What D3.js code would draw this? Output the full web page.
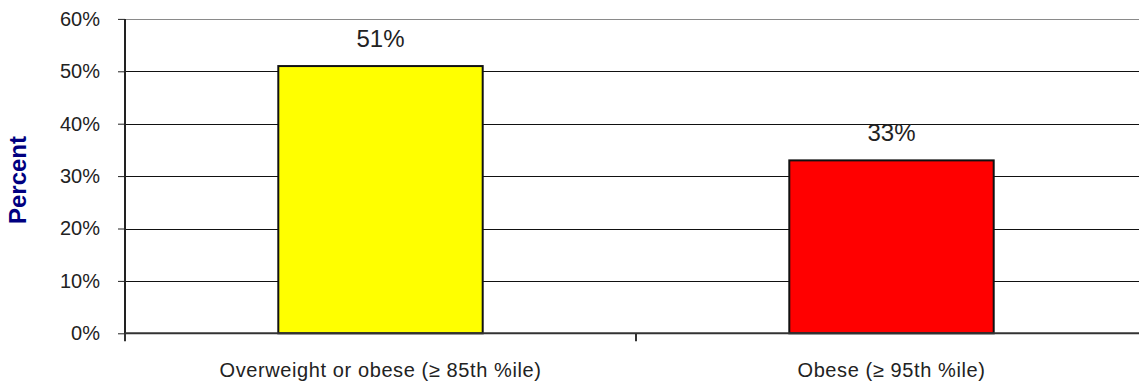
<!DOCTYPE html>
<html>
<head>
<meta charset="utf-8">
<script src="https://cdn.jsdelivr.net/npm/d3@7"></script>
<style>
  html, body { margin: 0; padding: 0; background: #fff; }
  svg { display: block; font-family: "Liberation Sans", Arial, sans-serif; }
</style>
</head>
<body>
<svg id="chart" width="1139" height="383"></svg>
<script>
// Share of children by weight status
const categories = ["Overweight or obese (\u2265 85th %ile)", "Obese (\u2265 95th %ile)"];
const values = [51, 33];
const barColors = ["#ffff00", "#ff0000"];
const yTicks = [0, 10, 20, 30, 40, 50, 60];

const svg = d3.select("#chart");
const plot = { left: 125, right: 1147, top: 18.9, bottom: 333.3 };

const x = d3.scaleBand().domain(categories).range([plot.left, plot.right]).padding(0);
const y = d3.scaleLinear().domain([0, 60]).range([plot.bottom, plot.top]);
const barW = x.bandwidth() * 0.4;

// horizontal gridlines
svg.append("g").selectAll("line")
  .data(yTicks.filter(d => d > 0))
  .join("line")
  .attr("x1", plot.left).attr("x2", plot.right)
  .attr("y1", d => Math.round(y(d)) + 0.5).attr("y2", d => Math.round(y(d)) + 0.5)
  .attr("stroke", d => d === 60 ? "#8a8a8a" : "#111")
  .attr("stroke-width", 1);

// bars
svg.append("g").selectAll("rect")
  .data(values)
  .join("rect")
  .attr("x", (d, i) => x(categories[i]) + (x.bandwidth() - barW) / 2)
  .attr("y", d => y(d))
  .attr("width", barW)
  .attr("height", d => y(0) - y(d))
  .attr("fill", (d, i) => barColors[i])
  .attr("stroke", "#111")
  .attr("stroke-width", 2);

// value labels
svg.append("g").selectAll("text")
  .data(values)
  .join("text")
  .attr("x", (d, i) => x(categories[i]) + x.bandwidth() / 2)
  .attr("y", d => y(d) - 19)
  .attr("text-anchor", "middle")
  .attr("font-size", 24)
  .attr("fill", "#222")
  .text(d => d + "%");

// y axis
const yAxis = svg.append("g")
  .attr("transform", `translate(${plot.left},0)`)
  .call(d3.axisLeft(y).tickValues(yTicks).tickSize(7).tickPadding(18).tickFormat(d => d + "%"));
yAxis.select(".domain").attr("stroke", "#222").attr("stroke-width", 2)
  .attr("d", `M0,${plot.top}V${plot.bottom + 7}`);
yAxis.selectAll(".tick line").attr("stroke", "#222").attr("stroke-width", 1);
yAxis.selectAll(".tick text").attr("font-size", 20).attr("fill", "#222")
  .attr("font-family", "Liberation Sans, Arial, sans-serif");

// x axis with ticks on category boundaries
const xAxis = svg.append("g")
  .attr("transform", `translate(0,${plot.bottom})`);
xAxis.append("line")
  .attr("x1", plot.left).attr("x2", plot.right)
  .attr("stroke", "#333").attr("stroke-width", 2);
xAxis.selectAll(".xtick")
  .data([plot.left, ...categories.slice(1).map(c => x(c))])
  .join("line")
  .attr("class", "xtick")
  .attr("x1", d => d).attr("x2", d => d)
  .attr("y1", 0).attr("y2", 8)
  .attr("stroke", "#333").attr("stroke-width", 2);
xAxis.selectAll("text")
  .data(categories)
  .join("text")
  .attr("x", d => x(d) + x.bandwidth() / 2)
  .attr("y", 44)
  .attr("text-anchor", "middle")
  .attr("font-size", 20)
  .attr("letter-spacing", 0.6)
  .attr("fill", "#222")
  .text(d => d);

// y axis title
svg.append("text")
  .attr("transform", "translate(26,180) rotate(-90)")
  .attr("text-anchor", "middle")
  .attr("font-size", 24)
  .attr("font-weight", "bold")
  .attr("fill", "#000080")
  .text("Percent");
</script>
</body>
</html>
